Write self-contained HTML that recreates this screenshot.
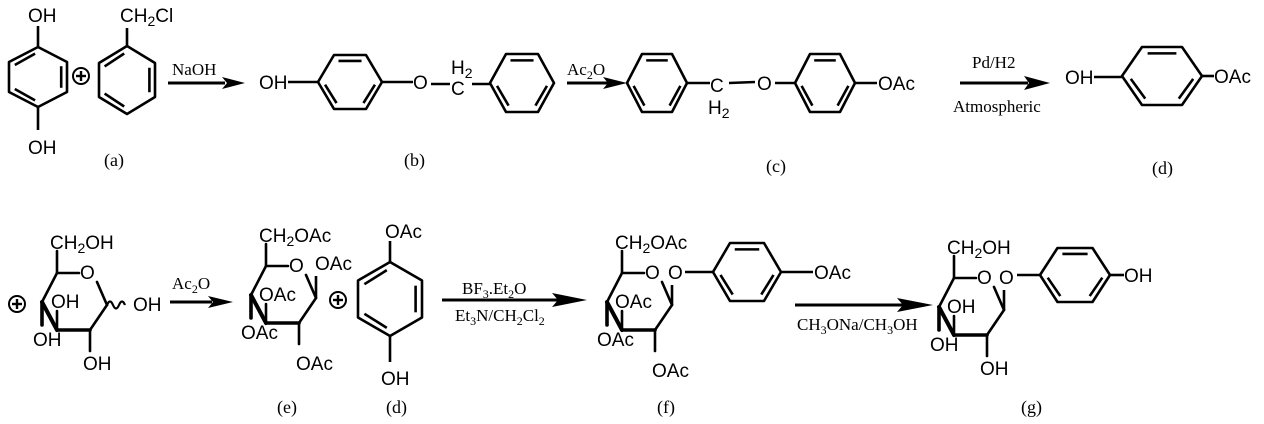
<!DOCTYPE html>
<html><head><meta charset="utf-8"><style>
html,body{margin:0;padding:0;background:#fff;}
svg{display:block}
.s{font-family:"Liberation Sans",sans-serif;font-size:19px;fill:#000}
.r{font-family:"Liberation Serif",serif;font-size:17px;fill:#000}
.l{font-family:"Liberation Serif",serif;font-size:18px;fill:#000}
</style></head><body>
<svg width="1264" height="424" viewBox="0 0 1264 424" xmlns="http://www.w3.org/2000/svg">
<defs>
<g id="hH" fill="none" stroke="#000" stroke-width="2.6">
<polygon points="-1,0 -0.5,-1 0.5,-1 1,0 0.5,1 -0.5,1" vector-effect="non-scaling-stroke" stroke-linejoin="round"/>
<line x1="-0.36" y1="-0.78" x2="0.36" y2="-0.78" vector-effect="non-scaling-stroke"/>
<line x1="0.42" y1="0.78" x2="0.78" y2="0.1" vector-effect="non-scaling-stroke"/>
<line x1="-0.78" y1="0.1" x2="-0.42" y2="0.78" vector-effect="non-scaling-stroke"/>
</g>
<g id="hV" fill="none" stroke="#000" stroke-width="2.6">
<polygon points="0,-1 1,-0.5 1,0.5 0,1 -1,0.5 -1,-0.5" vector-effect="non-scaling-stroke" stroke-linejoin="round"/>
<line x1="0.8" y1="-0.36" x2="0.8" y2="0.36" vector-effect="non-scaling-stroke"/>
<line x1="-0.8" y1="-0.4" x2="-0.1" y2="-0.78" vector-effect="non-scaling-stroke"/>
<line x1="-0.8" y1="0.4" x2="-0.1" y2="0.78" vector-effect="non-scaling-stroke"/>
</g>
<g id="plus">
<circle cx="0" cy="0" r="8" fill="none" stroke="#000" stroke-width="2"/>
<line x1="-5" y1="0" x2="5" y2="0" stroke="#000" stroke-width="2.4"/>
<line x1="0" y1="-5" x2="0" y2="5" stroke="#000" stroke-width="2.4"/>
</g>
<g id="sug" stroke="#000" stroke-width="2.6" fill="none" stroke-linecap="round">
<line x1="0" y1="0" x2="22" y2="0"/>
<line x1="40" y1="9" x2="50" y2="32"/>
<line x1="50" y1="32" x2="33" y2="57"/>
<line x1="33" y1="57" x2="0" y2="57" stroke-width="3.6"/>
<line x1="0" y1="57" x2="-15" y2="29" stroke-width="4"/>
<line x1="-15" y1="29" x2="0" y2="0"/>
<line x1="0" y1="0" x2="0" y2="-22"/>
<line x1="33" y1="57" x2="33" y2="78"/>
<line x1="-15" y1="29" x2="-15" y2="52" stroke-width="3.6"/>
<line x1="0" y1="57" x2="0" y2="38"/>
</g>
</defs>

<use href="#hV" transform="translate(38,77) scale(29,30)"/>
<line x1="38" y1="47" x2="38" y2="26" stroke="#000" stroke-width="2.6"/>
<line x1="38" y1="107" x2="38" y2="130" stroke="#000" stroke-width="2.6"/>
<text class="s" x="28" y="22">OH</text>
<text class="s" x="28" y="154">OH</text>
<use href="#plus" x="81" y="76"/>
<use href="#hV" transform="translate(127,80) scale(28,34)"/>
<line x1="127" y1="46" x2="127" y2="28" stroke="#000" stroke-width="2.6"/>
<text class="s" x="120" y="22">CH<tspan font-size="14" dy="4">2</tspan><tspan dy="-4">Cl</tspan></text>
<text class="l" x="104" y="166">(a)</text>

<text class="r" x="172" y="75">NaOH</text>
<line x1="168" y1="83" x2="225" y2="83" stroke="#000" stroke-width="3"/>
<polygon points="222,77 245,83 222,89 227,83" fill="#000"/>

<text class="s" x="259" y="89">OH</text>
<line x1="288" y1="82" x2="318" y2="82" stroke="#000" stroke-width="2.6"/>
<use href="#hH" transform="translate(350,82) scale(32,27)"/>
<line x1="382" y1="82" x2="413" y2="82" stroke="#000" stroke-width="2.6"/>
<text class="s" x="413" y="89">O</text>
<line x1="431" y1="84" x2="450" y2="84" stroke="#000" stroke-width="2.6"/>
<text class="s" x="451" y="95">C</text>
<text class="s" x="451" y="74">H<tspan font-size="14" dy="4">2</tspan></text>
<line x1="472" y1="84" x2="490" y2="84" stroke="#000" stroke-width="2.6"/>
<use href="#hH" transform="translate(522,83) scale(32,29)"/>
<text class="l" x="404" y="166">(b)</text>

<text class="r" x="567" y="75">Ac<tspan font-size="12" dy="4">2</tspan><tspan dy="-4">O</tspan></text>
<line x1="567" y1="83" x2="608" y2="83" stroke="#000" stroke-width="3"/>
<polygon points="603,77 627,83 603,89 608,83" fill="#000"/>
<use href="#hH" transform="translate(657,83) scale(30,29)"/>
<line x1="687" y1="83" x2="710" y2="83" stroke="#000" stroke-width="2.6"/>
<text class="s" x="710" y="92">C</text>
<text class="s" x="708" y="114">H<tspan font-size="14" dy="4">2</tspan></text>
<line x1="729" y1="83" x2="755" y2="82" stroke="#000" stroke-width="2.6"/>
<text class="s" x="757" y="90">O</text>
<line x1="775" y1="83" x2="795" y2="83" stroke="#000" stroke-width="2.6"/>
<use href="#hH" transform="translate(825,83) scale(30,29)"/>
<line x1="855" y1="83" x2="877" y2="83" stroke="#000" stroke-width="2.6"/>
<text class="s" x="878" y="90">OAc</text>
<text class="l" x="766" y="172">(c)</text>

<text class="r" x="972" y="68">Pd/H2</text>
<line x1="960" y1="83" x2="1028" y2="83" stroke="#000" stroke-width="3"/>
<polygon points="1024,76 1050,83 1024,90 1029,83" fill="#000"/>
<text class="r" x="953" y="112">Atmospheric</text>
<text class="s" x="1065" y="84">OH</text>
<line x1="1094" y1="77" x2="1122" y2="77" stroke="#000" stroke-width="2.6"/>
<use href="#hH" transform="translate(1162,76) scale(40,29)"/>
<line x1="1202" y1="76" x2="1214" y2="76" stroke="#000" stroke-width="2.6"/>
<text class="s" x="1214" y="83">OAc</text>
<text class="l" x="1152" y="174">(d)</text>

<use href="#plus" x="17" y="304"/>
<use href="#sug" x="57" y="273"/>
<text class="s" x="80" y="279">O</text>
<text class="s" x="50" y="249">CH<tspan font-size="14" dy="4">2</tspan><tspan dy="-4">OH</tspan></text>
<text class="s" x="51" y="308">OH</text>
<text class="s" x="33" y="346">OH</text>
<text class="s" x="83" y="370">OH</text>
<path d="M107,305 q3,-7 6,0 t6,0 t6,0" fill="none" stroke="#000" stroke-width="2.2"/>
<text class="s" x="133" y="311">OH</text>

<text class="r" x="172" y="289">Ac<tspan font-size="12" dy="4">2</tspan><tspan dy="-4">O</tspan></text>
<line x1="170" y1="302" x2="212" y2="302" stroke="#000" stroke-width="3"/>
<polygon points="208,296 233,302 208,308 213,302" fill="#000"/>

<use href="#sug" x="266" y="266"/>
<line x1="316" y1="298" x2="316" y2="276" stroke="#000" stroke-width="2.6"/>
<text class="s" x="289" y="272">O</text>
<text class="s" x="259" y="242">CH<tspan font-size="14" dy="4">2</tspan><tspan dy="-4">OAc</tspan></text>
<text class="s" x="315" y="270">OAc</text>
<text class="s" x="259" y="301">OAc</text>
<text class="s" x="241" y="339">OAc</text>
<text class="s" x="296" y="370">OAc</text>
<use href="#plus" x="338" y="300"/>
<text class="l" x="277" y="413">(e)</text>

<use href="#hV" transform="translate(390,299) scale(32,37)"/>
<line x1="390" y1="262" x2="390" y2="241" stroke="#000" stroke-width="2.6"/>
<line x1="390" y1="336" x2="390" y2="362" stroke="#000" stroke-width="2.6"/>
<text class="s" x="385" y="238">OAc</text>
<text class="s" x="381" y="385">OH</text>
<text class="l" x="386" y="413">(d)</text>

<text class="r" x="462" y="294">BF<tspan font-size="12" dy="4">3</tspan><tspan dy="-4">.Et</tspan><tspan font-size="12" dy="4">2</tspan><tspan dy="-4">O</tspan></text>
<line x1="442" y1="300" x2="560" y2="300" stroke="#000" stroke-width="3"/>
<polygon points="552,293 587,300 552,307 558,300" fill="#000"/>
<text class="r" x="455" y="321">Et<tspan font-size="12" dy="4">3</tspan><tspan dy="-4">N/CH</tspan><tspan font-size="12" dy="4">2</tspan><tspan dy="-4">Cl</tspan><tspan font-size="12" dy="4">2</tspan></text>

<use href="#sug" x="622" y="273"/>
<text class="s" x="645" y="279">O</text>
<line x1="672" y1="305" x2="672" y2="285" stroke="#000" stroke-width="2.6"/>
<text class="s" x="668" y="279">O</text>
<line x1="685" y1="272" x2="713" y2="272" stroke="#000" stroke-width="2.6"/>
<use href="#hH" transform="translate(747,272) scale(34,29)"/>
<line x1="781" y1="272" x2="813" y2="272" stroke="#000" stroke-width="2.6"/>
<text class="s" x="814" y="279">OAc</text>
<text class="s" x="615" y="249">CH<tspan font-size="14" dy="4">2</tspan><tspan dy="-4">OAc</tspan></text>
<text class="s" x="615" y="308">OAc</text>
<text class="s" x="597" y="346">OAc</text>
<text class="s" x="652" y="377">OAc</text>
<text class="l" x="657" y="413">(f)</text>

<line x1="795" y1="305" x2="905" y2="305" stroke="#000" stroke-width="3"/>
<polygon points="897,298 933,305 897,312 903,305" fill="#000"/>
<text class="r" x="797" y="330">CH<tspan font-size="12" dy="4">3</tspan><tspan dy="-4">ONa/CH</tspan><tspan font-size="12" dy="4">3</tspan><tspan dy="-4">OH</tspan></text>

<use href="#sug" x="954" y="278"/>
<text class="s" x="977" y="284">O</text>
<line x1="1004" y1="310" x2="1004" y2="290" stroke="#000" stroke-width="2.6"/>
<text class="s" x="999" y="284">O</text>
<line x1="1017" y1="275" x2="1040" y2="275" stroke="#000" stroke-width="2.6"/>
<use href="#hH" transform="translate(1075,275) scale(35,27)"/>
<line x1="1110" y1="275" x2="1124" y2="275" stroke="#000" stroke-width="2.6"/>
<text class="s" x="1124" y="282">OH</text>
<text class="s" x="947" y="254">CH<tspan font-size="14" dy="4">2</tspan><tspan dy="-4">OH</tspan></text>
<text class="s" x="947" y="313">OH</text>
<text class="s" x="930" y="351">OH</text>
<text class="s" x="980" y="375">OH</text>
<text class="l" x="1021" y="413">(g)</text>
</svg>
</body></html>
